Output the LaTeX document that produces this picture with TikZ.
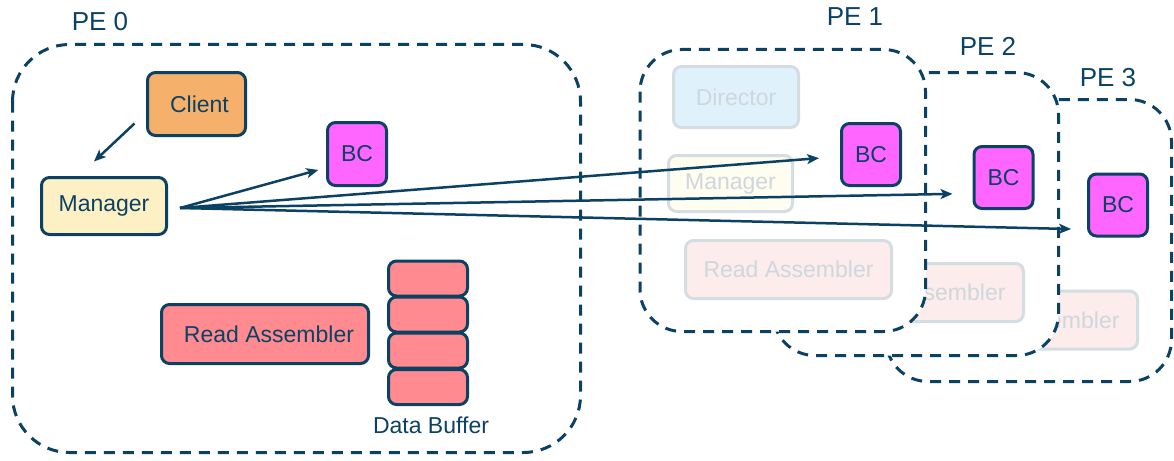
\documentclass[tikz,border=0pt]{standalone}
\usepackage{fontspec}
\setmainfont{Liberation Sans}
\usetikzlibrary{arrows.meta}
\definecolor{ink}{HTML}{0B4264}
\definecolor{clientfill}{HTML}{F5B06B}
\definecolor{managerfill}{HTML}{FDF0C4}
\definecolor{bcfill}{HTML}{FF66FF}
\definecolor{rafill}{HTML}{FF8A8F}
\definecolor{fadeline}{HTML}{D3DDE2}
\definecolor{fadetext}{HTML}{CDD7DD}
\definecolor{dirfade}{HTML}{DFF2FC}
\definecolor{manfade}{HTML}{FFFCF0}
\definecolor{rafade}{HTML}{FDECEC}
\begin{document}
\begin{tikzpicture}[x=1pt,y=-1pt,
  box/.style={draw=ink, line width=3pt, rounded corners=8pt, text=ink,
    font=\fontsize{23}{27}\selectfont, inner sep=0pt},
  faded/.style={draw=fadeline, line width=3pt, rounded corners=8pt, text=fadetext,
    font=\fontsize{23}{27}\selectfont, inner sep=0pt},
  pebox/.style={draw=ink, line width=3pt, dash pattern=on 11pt off 8pt, fill=white},
  pelabel/.style={text=ink, font=\fontsize{26}{30}\selectfont, inner sep=0pt},
  plain/.style={text=ink, font=\fontsize{23}{27}\selectfont, inner sep=0pt},
  arr/.style={draw=ink, line width=2.5pt, -{Stealth[length=12pt,width=10pt,inset=3pt]}},
  bcbox/.style={box, fill=bcfill, minimum width=59pt, minimum height=62pt},
  rabox/.style={minimum width=206pt, minimum height=58pt}]
\useasboundingbox (0,0) rectangle (1174,460);

% PE 3 (back)
\draw[pebox, rounded corners=42pt] (886,99.5) rectangle (1171.5,381.5);
\node[faded, rabox, fill=rafade] (ra3) at (1034.5,320) {Read Assembler};
\node[bcbox] (bc3) at (1118,205) {BC};

% PE 2
\draw[pebox, rounded corners=42pt] (773,72.5) rectangle (1058.5,355.5);
\node[faded, rabox, fill=rafade] (ra2) at (920.5,292.5) {Read Assembler};
\node[bcbox] (bc2) at (1003.5,177.5) {BC};

% PE 1 (front)
\draw[pebox, rounded corners=42pt] (640,49.5) rectangle (925.5,331.5);
\node[faded, fill=dirfade, minimum width=125pt, minimum height=61pt] (dir1) at (736,97) {Director};
\node[faded, fill=manfade, minimum width=124pt, minimum height=56pt] (man1) at (730.5,183.5) {Manager};
\node[faded, rabox, fill=rafade] (ra1) at (788.5,269.5) {Read Assembler};
\node[bcbox] (bc1) at (871,154.5) {BC};

% PE 0
\draw[pebox, rounded corners=57pt] (12.5,44.5) rectangle (580.5,452.5);
\node[box, fill=clientfill, minimum width=98pt, minimum height=63pt] (client) at (196.5,104) {\hspace*{6pt}Client};
\node[box, fill=managerfill, minimum width=125pt, minimum height=57pt] (manager) at (104,206) {Manager};
\node[bcbox, minimum height=63pt] (bc0) at (357,154) {BC};
\node[box, fill=rafill, minimum width=207pt, minimum height=59pt] (ra0) at (265,334) {\hspace*{8pt}Read Assembler};
\node[box, fill=rafill, minimum width=79pt, minimum height=35pt] (db1) at (428,278.5) {};
\node[box, fill=rafill, minimum width=79pt, minimum height=35pt] (db2) at (428,314.5) {};
\node[box, fill=rafill, minimum width=79pt, minimum height=35pt] (db3) at (428,350.5) {};
\node[box, fill=rafill, minimum width=79pt, minimum height=35pt] (db4) at (428,387) {};
\node[plain] (dblabel) at (431,425) {Data Buffer};

% labels
\node[pelabel] (pe0) at (100,22) {PE 0};
\node[pelabel] (pe1) at (855,17) {PE 1};
\node[pelabel] (pe2) at (988,46) {PE 2};
\node[pelabel] (pe3) at (1108,78) {PE 3};

% connectors
\coordinate (ms) at (180,208);
\draw[arr] ([xshift=-11.5pt,yshift=13.5pt]client.south west) -- ([xshift=-10pt,yshift=14.5pt]manager.north);
\draw[arr, shorten >=8pt] (ms) -- ([yshift=-13.8pt]bc0.west);
\draw[arr, shorten >=21pt] (ms) -- ([yshift=-2pt]bc1.west);
\draw[arr, shorten >=20pt] (ms) -- ([yshift=-16pt]bc2.west);
\draw[arr, shorten >=16pt] (ms) -- ([yshift=-24.4pt]bc3.west);
\end{tikzpicture}
\end{document}
